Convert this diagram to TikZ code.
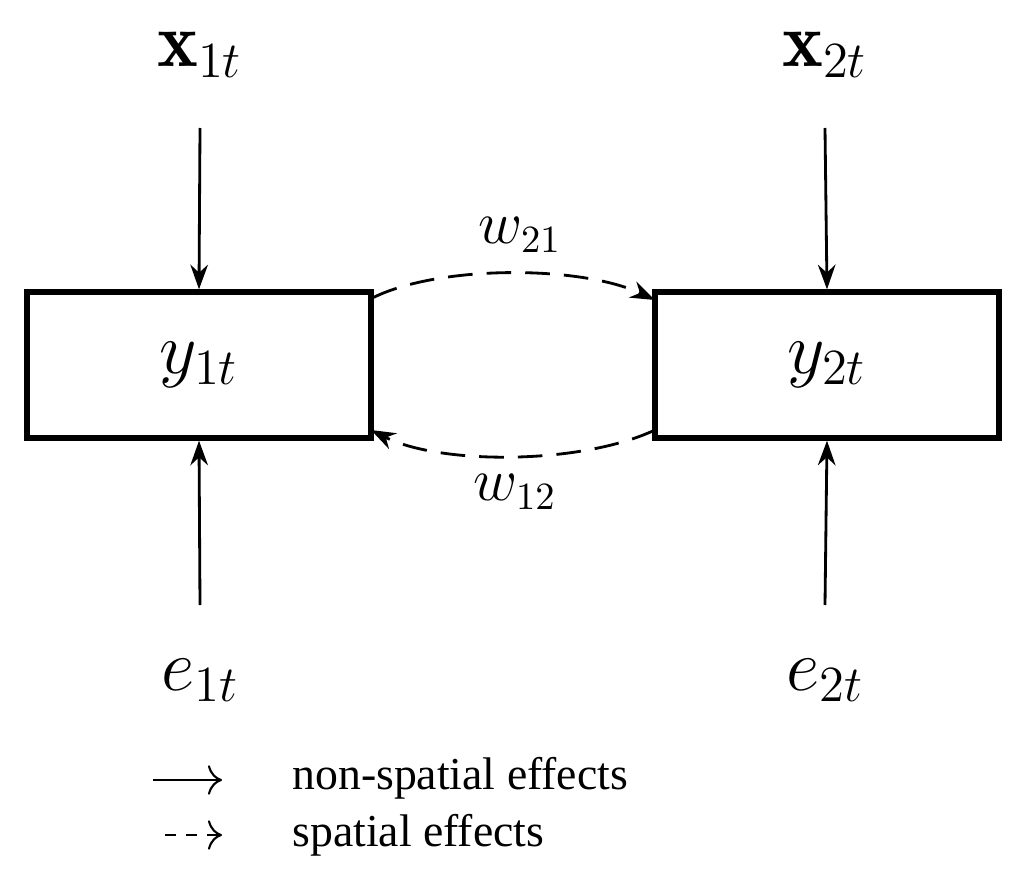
\documentclass[tikz,border=0pt]{standalone}
\usepackage{amsmath}
\usepackage{fontspec}
\newfontfamily\legfont{Liberation Serif}
\usetikzlibrary{arrows.meta}
\begin{document}
\begin{tikzpicture}[x=0.01cm,y=-0.01cm,
  box/.style={draw,line width=1.5pt,minimum width=3.44cm,minimum height=1.46cm,font=\fontsize{22}{26}\selectfont},
  lab/.style={font=\fontsize{22}{26}\selectfont},
  wl/.style={font=\fontsize{16}{18}\selectfont},
  arr/.style={line width=0.8pt,-{Stealth[length=7pt,width=5pt]}},
  darr/.style={arr,dashed,dash pattern=on 7pt off 4pt},
  leg/.style={anchor=west,font=\legfont\fontsize{13}{15}\selectfont}]
\useasboundingbox (0,0) rectangle (1024,882);
\node[box] (y1) at (199,365) {$y_{1t}$};
\node[box] (y2) at (827,365) {$y_{2t}$};
\node[lab] (x1) at (200,55) {$\mathbf{x}_{1t}$};
\node[lab] (x2) at (825,55) {$\mathbf{x}_{2t}$};
\node[lab] (e1) at (200,680) {$e_{1t}$};
\node[lab] (e2) at (825,680) {$e_{2t}$};
\coordinate (x1s) at (200,128); \coordinate (x2s) at (825,128);
\coordinate (e1s) at (200,605); \coordinate (e2s) at (825,605);
\draw[arr] (x1s) -- (y1.north);
\draw[arr] (x2s) -- (y2.north);
\draw[arr] (e1s) -- (y1.south);
\draw[arr] (e2s) -- (y2.south);
\draw[darr] (y1.north east) ++(0,8) coordinate (a1) .. controls (440,265) and (580,265) .. (655,300) coordinate (a2);
\draw[darr] (655,430) .. controls (580,465) and (440,465) .. (371,430);
\node[wl] (w21) at (520,235) {$w_{21}$};
\node[wl] (w12) at (515,492) {$w_{12}$};
\coordinate (l1a) at (153,780); \coordinate (l1b) at (222,780);
\coordinate (l2a) at (165,835); \coordinate (l2b) at (222,835);
\draw[line width=0.6pt,-{To[length=4pt]}] (l1a) -- (l1b);
\draw[line width=0.6pt,dashed,-{To[length=4pt]}] (l2a) -- (l2b);
\node[leg] (t1) at (280,778) {non-spatial effects};
\node[leg] (t2) at (280,835) {spatial effects};
\end{tikzpicture}
\end{document}
